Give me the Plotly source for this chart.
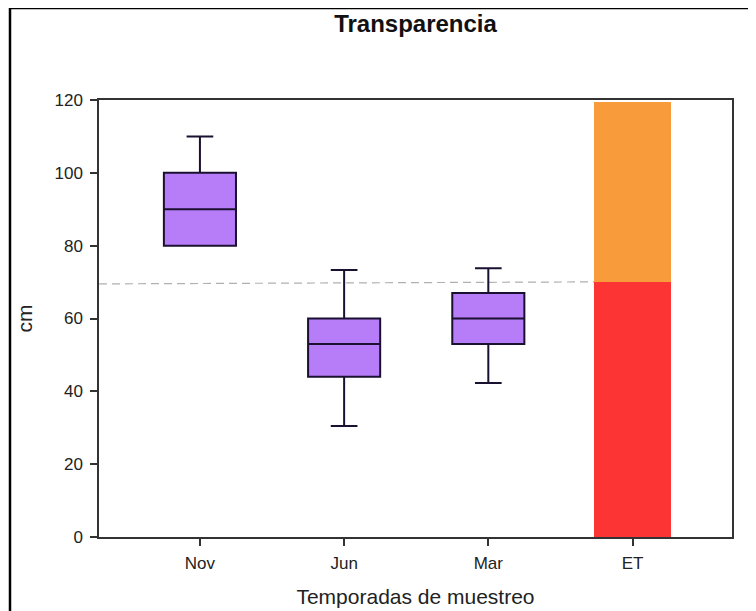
import plotly.graph_objects as go

# ---- data ----
categories = ["Nov", "Jun", "Mar", "ET"]
box_cats = ["Nov", "Jun", "Mar"]
box_q1 = [80, 44, 53]
box_median = [90, 53, 60]
box_q3 = [100, 60, 67]
box_lower = [80, 30.5, 42.3]
box_upper = [110, 73.3, 73.8]

et_cat = ["ET"]
et_red = [70]        # 0 -> 70
et_orange = [49.5]   # 70 -> 119.5

threshold_y = [69.5, 70.1]   # dashed reference line (start, end)
y_ticks = [0, 20, 40, 60, 80, 100, 120]

x_range = [-0.7, 3.69]

font_family = "Liberation Sans, Arial, sans-serif"
axis_col = "#333333"

fig = go.Figure()

fig.add_trace(go.Bar(
    x=et_cat, y=et_red, marker=dict(color="#fd3434", line=dict(width=0)),
    width=0.54, showlegend=False, hoverinfo="skip"))
fig.add_trace(go.Bar(
    x=et_cat, y=et_orange, marker=dict(color="#f89c3b", line=dict(width=0)),
    width=0.54, showlegend=False, hoverinfo="skip"))

fig.add_trace(go.Box(
    x=box_cats, q1=box_q1, median=box_median, q3=box_q3,
    lowerfence=box_lower, upperfence=box_upper,
    fillcolor="#b77cf8", line=dict(color="#1a1030", width=2),
    width=0.5, whiskerwidth=0.37, boxpoints=False, showlegend=False))

# dashed reference line (hidden under the ET bar)
fig.add_shape(type="line", xref="x", yref="y",
              x0=x_range[0], x1=3, y0=threshold_y[0], y1=threshold_y[1],
              line=dict(color="#b0b0b0", width=1.2, dash="8px,5px"),
              layer="below")

# figure size compensates for the 8px page margin of the html body
W, H = 748, 603
L, R, T, B = 91, 24, 92, 74
pw, ph = W - L - R, H - T - B
# outer frame of the figure
fig.add_shape(type="rect", xref="paper", yref="paper",
              x0=(2 - L) / pw, x1=(W + 20 - L) / pw,
              y0=(H - B - (H + 20)) / ph, y1=(H - B - 0) / ph,
              line=dict(color="black", width=2.5), fillcolor="rgba(0,0,0,0)",
              layer="above")

fig.update_layout(
    width=W, height=H,
    margin=dict(l=L, r=R, t=T, b=B, autoexpand=False),
    paper_bgcolor="white", plot_bgcolor="white",
    barmode="stack",
    font=dict(family=font_family, color="#222222"),
    title=dict(text="<b>Transparencia</b>", font=dict(size=24, color="#111111"),
               x=0.5, xref="paper", xanchor="center",
               y=1 - 16 / H, yref="container", yanchor="middle"),
    xaxis=dict(type="category", categoryorder="array", categoryarray=categories,
               range=x_range, showline=True, mirror=True, linecolor=axis_col,
               linewidth=1.5, ticks="outside", ticklen=7, tickwidth=1.5,
               tickcolor=axis_col, showgrid=False, zeroline=False,
               tickfont=dict(size=17), ticklabelstandoff=3, automargin=False,
               title=dict(text="Temporadas de muestreo", font=dict(size=21),
                          standoff=17)),
    yaxis=dict(range=[0, 120], tickvals=y_ticks, showline=True, mirror=True,
               linecolor=axis_col, linewidth=1.5, ticks="outside", ticklen=7,
               tickwidth=1.5, tickcolor=axis_col, showgrid=False, zeroline=False,
               tickfont=dict(size=17), ticklabelstandoff=4, automargin=False,
               title=dict(text="cm", font=dict(size=21), standoff=16)),
)

fig.write_html("out.html")
